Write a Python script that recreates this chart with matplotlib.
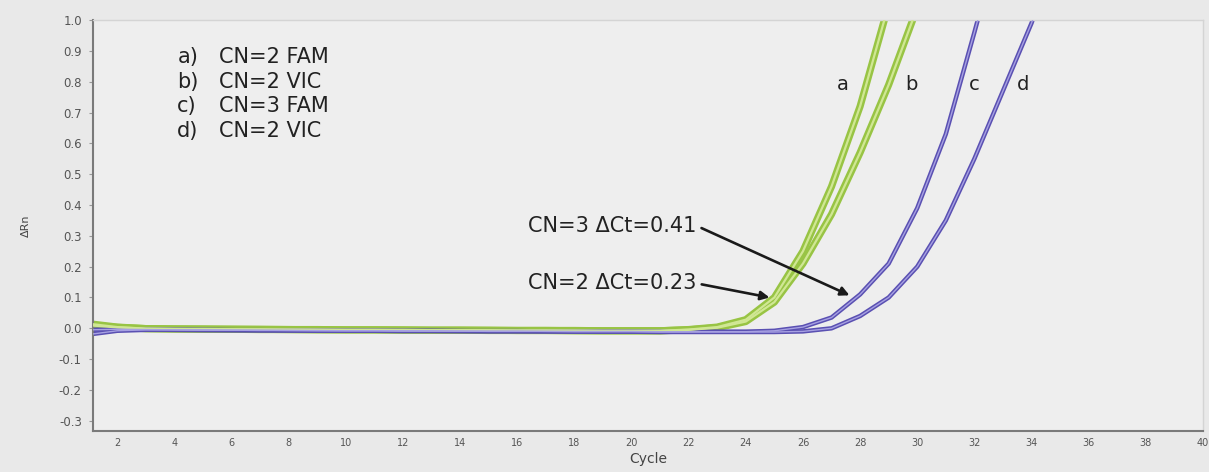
"""Real-time PCR amplification plot: copy number FAM / VIC curves."""

import matplotlib.pyplot as plt
from matplotlib import ticker

plt.rcParams["axes.unicode_minus"] = False

cycles = list(range(1, 41))

# delta Rn per cycle (curves stop once they leave the top)
rn_a = [0.015, 0.004, -0.001, -0.002, -0.002, -0.003, -0.003, -0.004, -0.004, -0.005,
        -0.005, -0.005, -0.006, -0.006, -0.006, -0.007, -0.007, -0.007, -0.008, -0.008,
        -0.008, -0.004, 0.004, 0.028, 0.10, 0.25, 0.46, 0.72, 1.05, 1.40]
rn_b = [0.010, 0.003, -0.001, -0.002, -0.003, -0.003, -0.004, -0.004, -0.005, -0.005,
        -0.005, -0.006, -0.006, -0.006, -0.007, -0.007, -0.007, -0.008, -0.008, -0.008,
        -0.008, -0.005, 0.002, 0.022, 0.085, 0.21, 0.37, 0.57, 0.79, 1.04, 1.30]
rn_c = [-0.005, -0.003, -0.004, -0.005, -0.005, -0.006, -0.006, -0.007, -0.007, -0.008,
        -0.008, -0.008, -0.008, -0.009, -0.009, -0.009, -0.010, -0.010, -0.010, -0.010,
        -0.011, -0.011, -0.011, -0.011, -0.008, 0.004, 0.035, 0.11, 0.21, 0.39,
        0.63, 0.96, 1.30]
rn_d = [-0.020, -0.008, -0.005, -0.005, -0.006, -0.006, -0.007, -0.007, -0.008, -0.008,
        -0.008, -0.009, -0.009, -0.009, -0.010, -0.010, -0.010, -0.011, -0.011, -0.011,
        -0.012, -0.012, -0.012, -0.012, -0.012, -0.010, 0.000, 0.04, 0.10, 0.20,
        0.35, 0.55, 0.77, 0.99, 1.25]

curve_letters = ["a", "b", "c", "d"]
curve_desc = ["CN=2 FAM", "CN=2 VIC", "CN=3 FAM", "CN=2 VIC"]
curve_label_x = [27.4, 29.8, 32.0, 33.7]

x_ticks = list(range(2, 41, 2))
y_ticks = [-0.3, -0.2, -0.1, 0.0, 0.1, 0.2, 0.3, 0.4, 0.5, 0.6, 0.7, 0.8, 0.9, 1.0]

GREEN_EDGE = "#98c444"
GREEN_MID = "#d0e794"
PURPLE_EDGE = "#5a50b2"
PURPLE_MID = "#a7a1e2"

fig = plt.figure(figsize=(12.09, 4.72), dpi=100)
fig.patch.set_facecolor("#e9e9e9")
ax = fig.add_axes([0.0769, 0.0869, 0.9181, 0.8707])
ax.set_facecolor("#eeeeee")

series = [rn_a, rn_b, rn_c, rn_d]
styles = [(GREEN_EDGE, GREEN_MID, 5.2, 1.6), (GREEN_EDGE, GREEN_MID, 5.2, 1.6),
          (PURPLE_EDGE, PURPLE_MID, 3.2, 1.0), (PURPLE_EDGE, PURPLE_MID, 3.2, 1.0)]
for vals, (edge, mid, w1, w2) in zip(series, styles):
    xs = cycles[:len(vals)]
    ax.plot(xs, vals, color=edge, lw=w1, solid_capstyle="butt", solid_joinstyle="round", zorder=2)
    ax.plot(xs, vals, color=mid, lw=w2, solid_capstyle="butt", solid_joinstyle="round", zorder=3)

ax.set_xlim(1.15, 40)
ax.set_ylim(-0.333, 1.0)
ax.set_xticks(x_ticks)
ax.set_yticks(y_ticks)
ax.yaxis.set_major_formatter(ticker.FormatStrFormatter("%.1f"))
ax.tick_params(axis="x", length=0, pad=5, labelsize=7, labelcolor="#555555")
ax.tick_params(axis="y", length=3, width=0.8, color="#999999", pad=5,
               labelsize=8.5, labelcolor="#555555")

for side in ["left", "bottom"]:
    ax.spines[side].set_color("#7a7a7a")
    ax.spines[side].set_linewidth(1.5)
for side in ["top", "right"]:
    ax.spines[side].set_color("#d4d4d4")
    ax.spines[side].set_linewidth(1.0)

ax.set_xlabel("Cycle", fontsize=10, color="#444444", labelpad=3)
ax.set_ylabel("\u0394Rn", fontsize=8, color="#444444", labelpad=20)

# legend block, top left
for i, (letter, desc) in enumerate(zip(curve_letters, curve_desc)):
    y = 0.88 - i * 0.08
    ax.text(4.1, y, f"{letter})", fontsize=15, color="#222222", va="center")
    ax.text(5.55, y, desc, fontsize=15, color="#222222", va="center")

# curve letters near the top
for letter, xpos in zip(curve_letters, curve_label_x):
    ax.text(xpos, 0.79, letter, fontsize=14, color="#222222", va="center", ha="center")

arrow = dict(arrowstyle="-|>", color="#1a1a1a", lw=1.9, mutation_scale=13,
             relpos=(1, 0.5), shrinkA=2, shrinkB=0)
ax.annotate("CN=3 \u0394Ct=0.41", xy=(27.63, 0.107), xytext=(16.37, 0.333),
            fontsize=15, color="#222222", va="center", ha="left", arrowprops=arrow)
ax.annotate("CN=2 \u0394Ct=0.23", xy=(24.83, 0.10), xytext=(16.37, 0.146),
            fontsize=15, color="#222222", va="center", ha="left", arrowprops=arrow)

fig.savefig("out.png", dpi=100, facecolor=fig.get_facecolor())
